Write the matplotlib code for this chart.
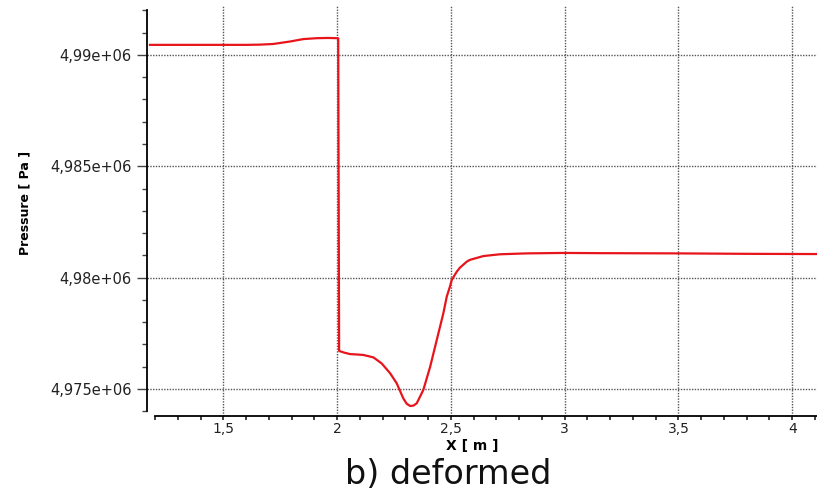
import matplotlib.pyplot as plt
from matplotlib.ticker import MultipleLocator, FuncFormatter

# pressure along the channel axis, deformed case
x_m = [1.178, 1.30, 1.40, 1.50, 1.60, 1.66, 1.72, 1.793, 1.852, 1.911, 1.96, 2.000,
       2.005, 2.009, 2.030, 2.057, 2.090, 2.116, 2.160, 2.196, 2.233, 2.262,
       2.291, 2.306, 2.321, 2.336, 2.350, 2.379, 2.409, 2.438, 2.467, 2.482,
       2.496, 2.504, 2.526, 2.540, 2.570, 2.584, 2.643, 2.716, 2.833, 2.994,
       3.156, 3.500, 3.800, 4.109]
pressure_pa = [4.99045e6, 4.99045e6, 4.99045e6, 4.99045e6, 4.99045e6, 4.99046e6,
               4.99049e6, 4.99060e6, 4.99071e6, 4.99075e6, 4.99076e6, 4.99075e6,
               4.99074e6, 4.97671e6, 4.97664e6, 4.97657e6, 4.97655e6, 4.97653e6,
               4.97642e6, 4.97615e6, 4.97571e6, 4.97526e6, 4.97458e6, 4.97434e6,
               4.97424e6, 4.97426e6, 4.97436e6, 4.97496e6, 4.97600e6, 4.97720e6,
               4.97840e6, 4.97915e6, 4.97960e6, 4.97990e6, 4.98027e6, 4.98045e6,
               4.98072e6, 4.98080e6, 4.98097e6, 4.98105e6, 4.98109e6, 4.98111e6,
               4.98110e6, 4.98109e6, 4.98107e6, 4.98106e6]

fig = plt.figure(figsize=(8.17, 4.90), dpi=100)
ax = fig.add_axes([0.18, 0.151, 0.82, 0.837])

ax.plot(x_m, pressure_pa, color='#e8141c', lw=1.6, zorder=3)

ax.set_xlim(1.165, 4.109)
ax.set_ylim(4.97379e6, 4.99220e6)

ax.xaxis.set_major_locator(MultipleLocator(0.5))
ax.xaxis.set_minor_locator(MultipleLocator(0.1))
ax.yaxis.set_major_locator(MultipleLocator(5000))
ax.yaxis.set_minor_locator(MultipleLocator(1000))

def fmt_x(v, pos):
    return f'{v:g}'.replace('.', ',')

def fmt_y(v, pos):
    return f'{v/1e6:g}'.replace('.', ',') + 'e+06'

ax.xaxis.set_major_formatter(FuncFormatter(fmt_x))
ax.yaxis.set_major_formatter(FuncFormatter(fmt_y))

for s in ['top', 'right']:
    ax.spines[s].set_visible(False)
ax.spines['left'].set_bounds(4.974e6, 4.992e6)
ax.spines['bottom'].set_bounds(1.2, 4.109)
ax.spines['left'].set_linewidth(1.3)
ax.spines['bottom'].set_linewidth(1.3)

ax.tick_params(axis='y', which='major', direction='out', length=7, width=1,
               color='#444444', labelsize=10.5, labelcolor='#222222', pad=4)
ax.tick_params(axis='y', which='minor', direction='out', length=3.6, width=1, color='#444444')
ax.tick_params(axis='x', which='both', direction='out', length=3, width=1.2,
               color='#222222', labelsize=10, labelcolor='#222222', pad=1.5)

ax.grid(True, which='major', color='#555555', linestyle=(0, (1, 1)), lw=1.0)

ax.set_ylabel('Pressure [ Pa ]', fontsize=9, fontweight='bold',
              family=['Liberation Sans Narrow', 'DejaVu Sans'])
ax.yaxis.set_label_coords(-0.173, 0.52)
ax.set_xlabel('X [ m ]', fontsize=10, fontweight='bold')
ax.xaxis.set_label_coords(0.485, -0.055)

fig.text(0.548, 0.013, 'b) deformed', fontsize=24, family='DejaVu Sans',
         ha='center', va='baseline', color='#111111')

fig.savefig('out.png', dpi=100, facecolor='white')
